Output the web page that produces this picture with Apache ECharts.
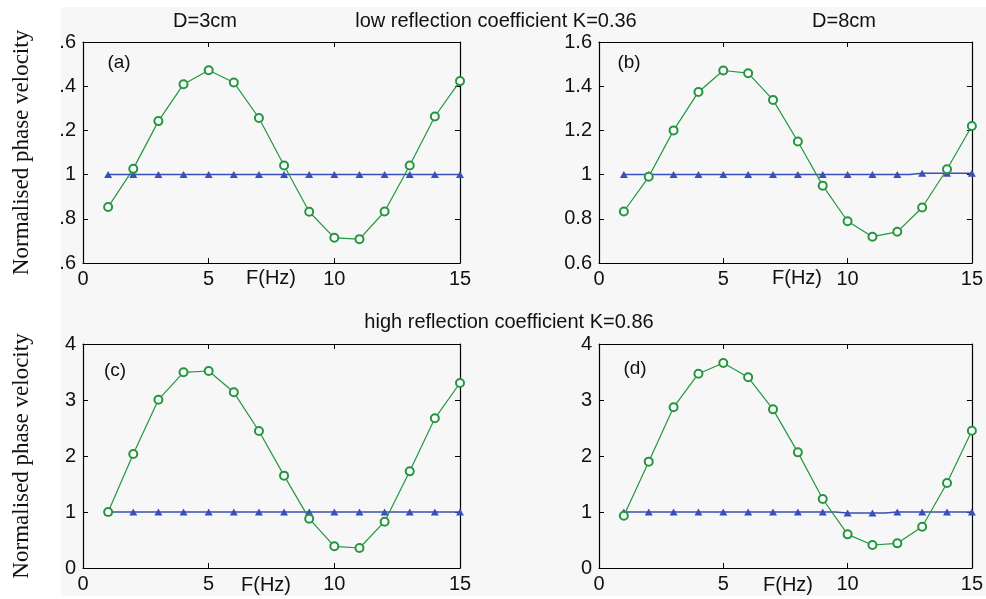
<!DOCTYPE html>
<html><head><meta charset="utf-8">
<script src="https://cdn.jsdelivr.net/npm/echarts@6/dist/echarts.min.js"></script>
<style>html,body{margin:0;padding:0;background:#fff}#c{width:986px;height:599px}</style>
</head><body><div id="c"></div>
<script>
// ---- data ----
const freq = [1,2,3,4,5,6,7,8,9,10,11,12,13,14,15];
const greenA = [0.853,1.026,1.242,1.409,1.472,1.417,1.256,1.041,0.832,0.714,0.708,0.833,1.041,1.263,1.423];
const blueA  = [1,1,1,1,1,1,1,1,1,1,1,1,1,1,1];
const greenB = [0.833,0.99,1.2,1.374,1.471,1.459,1.338,1.150,0.950,0.789,0.719,0.741,0.851,1.024,1.22];
const blueB  = [1,1,1,1,1,1,1,1,1,1,1,1,1.006,1.006,1.006];
const greenC = [1.0,2.036,3.006,3.494,3.518,3.137,2.446,1.649,0.881,0.387,0.357,0.827,1.726,2.673,3.304];
const blueC  = [1,1,1,1,1,1,1,1,1,1,1,1,1,1,1];
const greenD = [0.934,1.899,2.869,3.47,3.66,3.405,2.833,2.065,1.232,0.601,0.411,0.44,0.738,1.518,2.452];
const blueD  = [1,1,1,1,1,1,1,1,1,0.982,0.982,1,1,1,1];
const xTickLabels = ['0','5','10','15'];
const yTickLabelsA = ['.6','.8','1','.2','.4','.6'];
const yTickLabelsB = ['0.6','0.8','1','1.2','1.4','1.6'];
const yTickLabelsCD = ['0','1','2','3','4'];
const panelLetters = ['(a)','(b)','(c)','(d)'];
const headTop = ['D=3cm','low reflection coefficient K=0.36','D=8cm'];
const headBottom = 'high reflection coefficient K=0.86';
const yTitle = 'Normalised phase velocity';
const xTitle = 'F(Hz)';

// ---- layout ----
const grids = [
  {left:83, top:42, width:377, height:221},
  {left:599, top:42, width:376, height:221},
  {left:83, top:344, width:377, height:224},
  {left:599, top:344, width:376, height:224}
];
const yRanges = [
  {min:0.6, max:1.6, interval:0.2, labels:yTickLabelsA},
  {min:0.6, max:1.6, interval:0.2, labels:yTickLabelsB},
  {min:0, max:4, interval:1, labels:yTickLabelsCD},
  {min:0, max:4, interval:1, labels:yTickLabelsCD}
];
const greens = [greenA, greenB, greenC, greenD];
const blues = [blueA, blueB, blueC, blueD];
const GREEN = '#23963f', BLUE = '#3a4fb8';
const font = 'Liberation Sans, Arial, sans-serif';

const xAxis = [], yAxis = [], series = [];
grids.forEach((g, i) => {
  xAxis.push({
    type:'value', gridIndex:i, min:0, max:15, interval:5, position:'bottom',
    axisLine:{show:true, onZero:false, lineStyle:{color:'#000', width:1.2}},
    axisTick:{show:true, inside:true, length:5, lineStyle:{color:'#000'}},
    axisLabel:{show:true, margin:6, fontSize:20, color:'#111', fontFamily:font,
      formatter:v => xTickLabels[Math.round(v/5)]},
    splitLine:{show:false}
  });
  xAxis.push({
    type:'value', gridIndex:i, min:0, max:15, interval:5, position:'top',
    axisLine:{show:true, onZero:false, lineStyle:{color:'#000', width:1.2}},
    axisTick:{show:true, inside:true, length:5, lineStyle:{color:'#000'}},
    axisLabel:{show:false}, splitLine:{show:false}
  });
  const r = yRanges[i];
  const yl = {
    type:'value', gridIndex:i, min:r.min, max:r.max, interval:r.interval, position:'left',
    axisLine:{show:true, onZero:false, lineStyle:{color:'#000', width:1.2}},
    axisTick:{show:true, inside:true, length:5, lineStyle:{color:'#000'}},
    axisLabel:{show:true, margin:7, fontSize:20, color:'#111', fontFamily:font,
      formatter:v => r.labels[Math.round((v - r.min)/r.interval)]},
    splitLine:{show:false}
  };
  if (i === 0 || i === 2) {
    yl.name = yTitle; yl.nameLocation = 'middle'; yl.nameGap = 50;
    yl.nameTextStyle = {fontSize:23, color:'#111', fontFamily:'Liberation Serif, Times New Roman, serif'};
  }
  yAxis.push(yl);
  yAxis.push({
    type:'value', gridIndex:i, min:r.min, max:r.max, interval:r.interval, position:'right',
    axisLine:{show:true, onZero:false, lineStyle:{color:'#000', width:1.2}},
    axisTick:{show:true, inside:true, length:5, lineStyle:{color:'#000'}},
    axisLabel:{show:false}, splitLine:{show:false}
  });
  series.push({
    type:'line', xAxisIndex:2*i, yAxisIndex:2*i, step:'middle',
    data: freq.map((f,k) => [f, blues[i][k]]),
    symbol:'triangle', symbolSize:[8,7], showAllSymbol:true,
    lineStyle:{color:BLUE, width:1.5}, itemStyle:{color:BLUE}, animation:false
  });
  series.push({
    type:'line', xAxisIndex:2*i, yAxisIndex:2*i,
    data: freq.map((f,k) => [f, greens[i][k]]),
    symbol:'emptyCircle', symbolSize:8, showAllSymbol:true,
    lineStyle:{color:GREEN, width:1.2}, itemStyle:{color:GREEN, borderWidth:1.3}, animation:false
  });
});

const txt = (x, y, s, size) => ({type:'text', x, y, style:{text:s, fill:'#111', font:`${size}px ${font}`, textAlign:'center', textVerticalAlign:'middle'}});
const graphic = [
  {type:'rect', shape:{x:61, y:7, width:925, height:589}, style:{fill:'#f7f7f7'}, z:-10, silent:true},
  txt(205, 21, headTop[0], 20),
  txt(496, 21, headTop[1], 20),
  txt(844, 21, headTop[2], 20),
  txt(509, 322, headBottom, 20),
  txt(119, 63, panelLetters[0], 19),
  txt(629, 63, panelLetters[1], 19),
  txt(115, 371, panelLetters[2], 19),
  txt(635, 369, panelLetters[3], 19),
  txt(271, 278, xTitle, 20),
  txt(797, 278, xTitle, 20),
  txt(266, 585, xTitle, 20),
  txt(788, 585, xTitle, 20)
];

const chart = echarts.init(document.getElementById('c'), null, {renderer:'canvas'});
chart.setOption({
  animation:false,
  backgroundColor:'#ffffff',
  grid: grids.map(g => Object.assign({containLabel:false}, g)),
  xAxis, yAxis, series, graphic
});
</script>
</body></html>
